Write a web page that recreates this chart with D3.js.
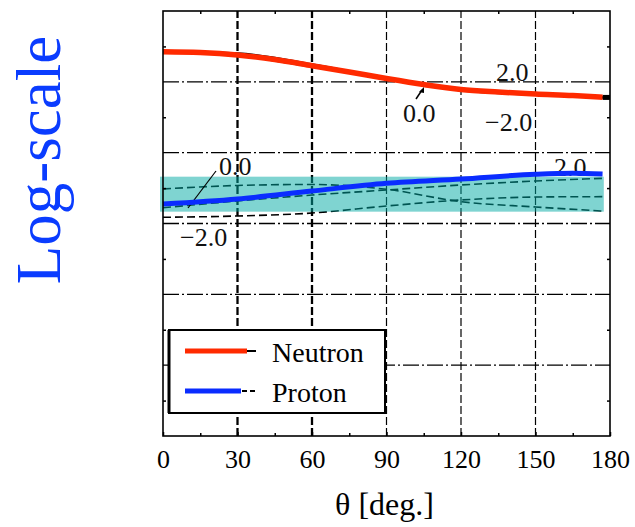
<!DOCTYPE html>
<html>
<head>
<meta charset="utf-8">
<script src="https://cdn.jsdelivr.net/npm/d3@7"></script>
<style>
  body { margin: 0; background: #fff; }
</style>
</head>
<body>
<svg id="chart"></svg>
<script>
const width = 635;
const height = 527;
const serif = "'Liberation Serif', 'Times New Roman', Tinos, serif";

// angles (deg) and log10 values
const neutronAngles = [0, 15, 30, 45, 60, 75, 90, 105, 120, 135, 150, 165, 177];
const neutron = [5.425, 5.414, 5.379, 5.315, 5.228, 5.139, 5.047, 4.962, 4.892, 4.856, 4.828, 4.807, 4.782];

const neutronVarAngles = [0, 30, 60, 90, 120, 150, 180];
const neutronPlus2 = [5.43, 5.405, 5.25, 5.05, 4.89, 4.83, 4.78];
const neutronMinus2 = [5.42, 5.37, 5.21, 5.04, 4.875, 4.815, 4.77];

const protonAngles = [0, 30, 60, 90, 120, 150, 165, 177];
const proton = [3.275, 3.346, 3.459, 3.567, 3.628, 3.695, 3.709, 3.699];

const protonVarAngles = [0, 30, 60, 90, 120, 150, 177];
const protonA = [3.487, 3.537, 3.551, 3.483, 3.308, 3.233, 3.176];
const protonB = [3.223, 3.318, 3.402, 3.473, 3.544, 3.6, 3.638];
const protonC = [3.088, 3.106, 3.148, 3.247, 3.332, 3.374, 3.379];

const band = { x0: -1.2, x1: 177.5, low: 3.167, high: 3.661 };

const xTicks = [0, 30, 60, 90, 120, 150, 180];
const xMinor = [15, 45, 75, 105, 135, 165];
const yGrid = [1, 2, 3, 4, 5];
const yMinor = [0.5, 1.5, 2.5, 3.5, 4.5, 5.5];

const svg = d3.select("#chart").attr("width", width).attr("height", height);

const x = d3.scaleLinear().domain([0, 180]).range([163, 610]);
const y = d3.scaleLinear().domain([0, 6]).range([436, 11]);

/**
 * grid lines
 */
svg.append("g")
  .selectAll("line")
  .data(yGrid)
  .enter()
  .append("line")
  .attr("x1", x(0)).attr("x2", x(180))
  .attr("y1", (d) => y(d)).attr("y2", (d) => y(d))
  .attr("stroke", "#000")
  .attr("stroke-width", 1.3)
  .attr("stroke-dasharray", "16,3,2,3");

svg.append("g")
  .selectAll("line")
  .data(xTicks.slice(1, -1))
  .enter()
  .append("line")
  .attr("x1", (d) => x(d)).attr("x2", (d) => x(d))
  .attr("y1", y(0)).attr("y2", y(6))
  .attr("stroke", "#000")
  .attr("stroke-width", (d) => (d <= 60 ? 2.3 : 1.2))
  .attr("stroke-dasharray", "8,3");

const line = (angles) =>
  d3.line()
    .x((d, i) => x(angles[i]))
    .y((d) => y(d))
    .curve(d3.curveMonotoneX);

/**
 * neutron curves
 */
[neutronPlus2, neutronMinus2].forEach((vals) => {
  svg.append("path")
    .attr("d", line(neutronVarAngles)(vals))
    .attr("fill", "none")
    .attr("stroke", "#000")
    .attr("stroke-width", 1.8);
});
svg.append("rect")
  .attr("x", x(177)).attr("y", y(4.78) - 2.5)
  .attr("width", x(180) - x(177)).attr("height", 5)
  .attr("fill", "#000");

svg.append("path")
  .attr("d", line(neutronAngles)(neutron))
  .attr("fill", "none")
  .attr("stroke", "#ff2a00")
  .attr("stroke-width", 5.5);

/**
 * proton variations and band
 */
[protonA, protonB, protonC].forEach((vals) => {
  svg.append("path")
    .attr("d", line(protonVarAngles)(vals))
    .attr("fill", "none")
    .attr("stroke", "#000")
    .attr("stroke-width", 1.6)
    .attr("stroke-dasharray", "8,4");
});

svg.append("rect")
  .attr("x", x(band.x0))
  .attr("y", y(band.high))
  .attr("width", x(band.x1) - x(band.x0))
  .attr("height", y(band.low) - y(band.high))
  .attr("fill", "#00a9a3")
  .attr("fill-opacity", 0.5);

/**
 * curve labels
 */
const labels = [
  { t: "2.0", x: 496, y: 81 },
  { t: "0.0", x: 403, y: 122 },
  { t: "\u22122.0", x: 485, y: 131 },
  { t: "0.0", x: 219, y: 175 },
  { t: "\u22122.0", x: 180, y: 246 },
  { t: "2.0", x: 554, y: 176 },
];
svg.append("g")
  .selectAll("text")
  .data(labels)
  .enter()
  .append("text")
  .attr("x", (d) => d.x)
  .attr("y", (d) => d.y)
  .style("font-family", serif)
  .attr("font-size", 26)
  .attr("fill", "#111")
  .text((d) => d.t);

svg.append("line")
  .attr("x1", 216).attr("y1", 171).attr("x2", 188).attr("y2", 208)
  .attr("stroke", "#000").attr("stroke-width", 1.2);
svg.append("line")
  .attr("x1", 416).attr("y1", 99).attr("x2", 422).attr("y2", 90)
  .attr("stroke", "#000").attr("stroke-width", 1.5);
svg.append("path")
  .attr("d", "M424,87 L419,92 L424,93 Z")
  .attr("fill", "#000");

svg.append("path")
  .attr("d", line(protonAngles)(proton))
  .attr("fill", "none")
  .attr("stroke", "#0a2cff")
  .attr("stroke-width", 5);

/**
 * axes (inward ticks) and frame
 */
const axisBottomG = svg.append("g")
  .attr("transform", "translate(0," + y(0) + ")")
  .call(d3.axisBottom(x).tickValues(xTicks).tickSize(-4).tickPadding(14));
axisBottomG.select(".domain").remove();
axisBottomG.selectAll("text")
  .style("font-family", serif)
  .style("font-size", "26px")
  .attr("fill", "#000");

const minorBottomG = svg.append("g")
  .attr("transform", "translate(0," + y(0) + ")")
  .call(d3.axisBottom(x).tickValues(xMinor).tickSize(-3).tickFormat(""));
minorBottomG.select(".domain").remove();

const axisTopG = svg.append("g")
  .attr("transform", "translate(0," + y(6) + ")")
  .call(d3.axisTop(x).tickValues(xMinor).tickSize(-3).tickFormat(""));
axisTopG.select(".domain").remove();

const axisLeftG = svg.append("g")
  .attr("transform", "translate(" + x(0) + ",0)")
  .call(d3.axisLeft(y).tickValues(yMinor).tickSize(-3).tickFormat(""));
axisLeftG.select(".domain").remove();

const axisRightG = svg.append("g")
  .attr("transform", "translate(" + x(180) + ",0)")
  .call(d3.axisRight(y).tickValues(yMinor).tickSize(-3).tickFormat(""));
axisRightG.select(".domain").remove();

svg.selectAll(".tick line").attr("stroke-width", 1.5);

svg.append("rect")
  .attr("x", x(0)).attr("y", y(6))
  .attr("width", x(180) - x(0)).attr("height", y(0) - y(6))
  .attr("fill", "none")
  .attr("stroke", "#000")
  .attr("stroke-width", 1.6);

/**
 * axis titles
 */
svg.append("text")
  .attr("x", (x(0) + x(180)) / 2 - 2)
  .attr("y", 515)
  .attr("text-anchor", "middle")
  .style("font-family", serif)
  .attr("font-size", 32)
  .text("\u03b8 [deg.]");

svg.append("text")
  .attr("transform", "translate(60,160) rotate(-90)")
  .attr("text-anchor", "middle")
  .style("font-family", serif)
  .attr("font-size", 63)
  .attr("fill", "#0a3cff")
  .text("Log-scale");

/**
 * legend
 */
const legend = svg.append("g");
legend.append("rect")
  .attr("x", 169).attr("y", 330)
  .attr("width", 216).attr("height", 83)
  .attr("fill", "#fff")
  .attr("stroke", "#000")
  .attr("stroke-width", 2);
legend.append("line")
  .attr("x1", 169).attr("y1", 330).attr("x2", 169).attr("y2", 413)
  .attr("stroke", "#000").attr("stroke-width", 3);

const legendItems = [
  { name: "Neutron", color: "#ff2a00", dash: null, y: 351, colorEnd: 247 },
  { name: "Proton", color: "#0a2cff", dash: "5,3", y: 391, colorEnd: 241 },
];
legendItems.forEach((d) => {
  legend.append("line")
    .attr("x1", 186).attr("x2", 256)
    .attr("y1", d.y).attr("y2", d.y)
    .attr("stroke", "#000")
    .attr("stroke-width", 2)
    .attr("stroke-dasharray", d.dash);
  legend.append("line")
    .attr("x1", 185).attr("x2", d.colorEnd)
    .attr("y1", d.y).attr("y2", d.y)
    .attr("stroke", d.color)
    .attr("stroke-width", 5);
  legend.append("text")
    .attr("x", 272).attr("y", d.y + 11)
    .style("font-family", serif)
    .attr("font-size", 28)
    .text(d.name);
});
</script>
</body>
</html>
